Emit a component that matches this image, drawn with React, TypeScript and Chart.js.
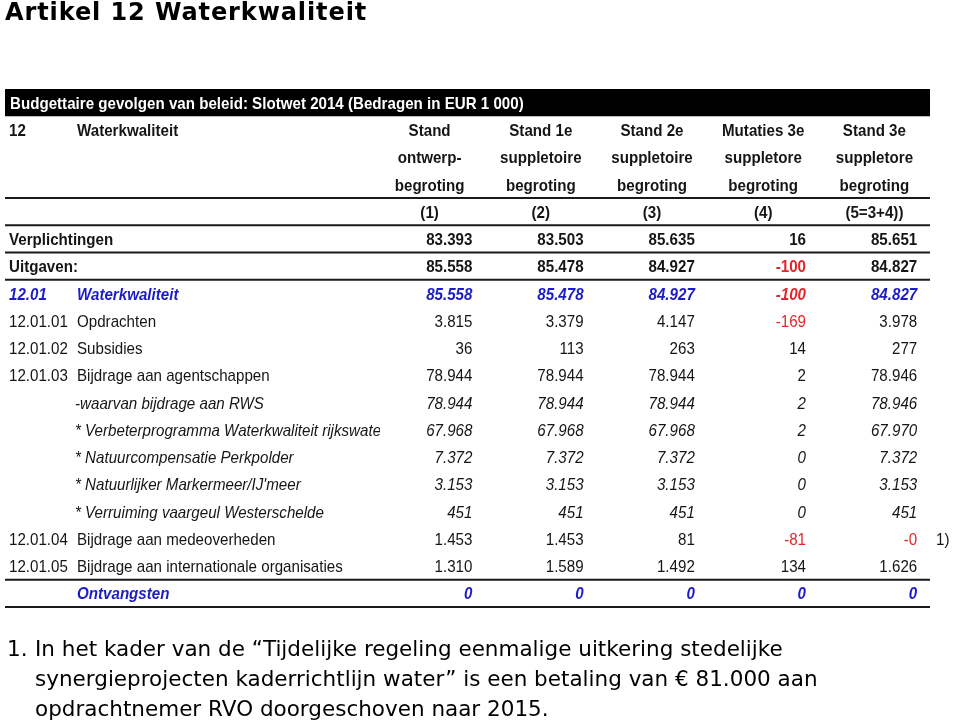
import React, { useEffect, useRef } from "react";
import { Chart, registerables } from "chart.js";

Chart.register(...registerables);

const TITLE = "Artikel 12 Waterkwaliteit";
const TABLE_CAPTION = "Budgettaire gevolgen van beleid: Slotwet 2014 (Bedragen in EUR 1 000)";
const ARTICLE_CODE = "12";
const ARTICLE_NAME = "Waterkwaliteit";

const COLUMN_KEYS = ["(1)", "(2)", "(3)", "(4)", "(5=3+4))"];
const HEADER_LINE_1 = ["Stand", "Stand 1e", "Stand 2e", "Mutaties 3e", "Stand 3e"];
const HEADER_LINE_2 = ["ontwerp-", "suppletoire", "suppletoire", "suppletore", "suppletore"];
const HEADER_LINE_3 = ["begroting", "begroting", "begroting", "begroting", "begroting"];

const ROW_CODES = ["", "", "12.01", "12.01.01", "12.01.02", "12.01.03", "", "", "", "", "", "12.01.04", "12.01.05", ""];
const ROW_LABELS = [
  "Verplichtingen",
  "Uitgaven:",
  "Waterkwaliteit",
  "Opdrachten",
  "Subsidies",
  "Bijdrage aan agentschappen",
  "-waarvan bijdrage aan RWS",
  "* Verbeterprogramma Waterkwaliteit rijkswateren",
  "* Natuurcompensatie Perkpolder",
  "* Natuurlijker Markermeer/IJ'meer",
  "* Verruiming vaargeul Westerschelde",
  "Bijdrage aan medeoverheden",
  "Bijdrage aan internationale organisaties",
  "Ontvangsten",
];
const ROW_KINDS = ["total", "total", "blue", "plain", "plain", "plain", "italic", "italic", "italic", "italic", "italic", "plain", "plain", "blue"];
const ROW_NOTES = ["", "", "", "", "", "", "", "", "", "", "", "1)", "", ""];

const VALUES_1 = [83393, 85558, 85558, 3815, 36, 78944, 78944, 67968, 7372, 3153, 451, 1453, 1310, 0];
const VALUES_2 = [83503, 85478, 85478, 3379, 113, 78944, 78944, 67968, 7372, 3153, 451, 1453, 1589, 0];
const VALUES_3 = [85635, 84927, 84927, 4147, 263, 78944, 78944, 67968, 7372, 3153, 451, 81, 1492, 0];
const VALUES_4 = [16, -100, -100, -169, 14, 2, 2, 2, 0, 0, 0, -81, 134, 0];
const VALUES_5 = [85651, 84827, 84827, 3978, 277, 78946, 78946, 67970, 7372, 3153, 451, -0, 1626, 0];
const COLUMN_VALUES = [VALUES_1, VALUES_2, VALUES_3, VALUES_4, VALUES_5];

const FOOTNOTE_NUMBER = "1.";
const FOOTNOTE_LINES = [
  "In het kader van de \u201cTijdelijke regeling eenmalige uitkering stedelijke",
  "synergieprojecten kaderrichtlijn water\u201d is een betaling van \u20ac 81.000 aan",
  "opdrachtnemer RVO doorgeschoven naar 2015.",
];

const Y_KEYS = ["caption", "head1", "head2", "head3", "colnums", ...ROW_LABELS.map((_, i) => "row" + i)];
const DATA_OFFSET = 5;

const BLACK = "#151515";
const BLUE = "#1c1cc4";
const RED = "#e2262b";
const FONT_SIZE = 17;
const TABLE_LEFT = 5;
const FAMILY = '"Liberation Sans", Arial, sans-serif';
const SCALE_X = 0.89;

function fmt(v: number): string {
  const neg = v < 0 || Object.is(v, -0);
  const s = Math.abs(v).toString().replace(/\B(?=(\d{3})+(?!\d))/g, ".");
  return (neg ? "-" : "") + s;
}

type Style = { weight?: string; italic?: boolean; color?: string; align?: CanvasTextAlign };

function drawText(ctx: CanvasRenderingContext2D, s: string, px: number, py: number, st: Style) {
  ctx.save();
  ctx.font = `${st.italic ? "italic " : ""}${st.weight || "normal"} ${FONT_SIZE}px ${FAMILY}`;
  ctx.fillStyle = st.color || BLACK;
  ctx.textAlign = st.align || "left";
  ctx.textBaseline = "alphabetic";
  ctx.translate(px, py + FONT_SIZE * 0.36);
  ctx.scale(SCALE_X, 1);
  ctx.fillText(s, 0, 0);
  ctx.restore();
}

const tablePlugin = {
  id: "tableCells",
  afterDraw(chart: any) {
    const { ctx, chartArea } = chart;
    const xs = chart.scales.x;
    const ys = chart.scales.y;
    const bandH = ys.getPixelForValue(1) - ys.getPixelForValue(0);
    const bandW = xs.getPixelForValue(1) - xs.getPixelForValue(0);
    const rowY = (i: number) => ys.getPixelForValue(i);
    const colX = (j: number) => xs.getPixelForValue(j);
    const numX = (j: number) => colX(j) + bandW * 0.385;
    const left = TABLE_LEFT;
    const right = chartArea.right;
    const codeX = left + 4;
    const labelX = left + 72;

    // caption bar
    ctx.save();
    ctx.fillStyle = "#000";
    ctx.fillRect(left, rowY(0) - bandH / 2, right - left, bandH);
    ctx.restore();
    drawText(ctx, TABLE_CAPTION, left + 5, rowY(0), { weight: "bold", color: "#ffffff" });

    // header
    drawText(ctx, ARTICLE_CODE, codeX, rowY(1), { weight: "bold" });
    drawText(ctx, ARTICLE_NAME, labelX, rowY(1), { weight: "bold" });
    [HEADER_LINE_1, HEADER_LINE_2, HEADER_LINE_3, COLUMN_KEYS].forEach((line, k) => {
      line.forEach((s, j) => drawText(ctx, s, colX(j), rowY(1 + k), { weight: "bold", align: "center" }));
    });

    // rules
    const rule = (rowIndexBelow: number) => {
      const yy = rowY(rowIndexBelow) - bandH / 2;
      ctx.save();
      ctx.strokeStyle = "#1a1a1a";
      ctx.lineWidth = 2;
      ctx.beginPath();
      ctx.moveTo(left, yy);
      ctx.lineTo(right, yy);
      ctx.stroke();
      ctx.restore();
    };
    [4, 5, 6, 7, DATA_OFFSET + ROW_LABELS.length - 1, DATA_OFFSET + ROW_LABELS.length].forEach(rule);

    // rows
    ROW_LABELS.forEach((label, i) => {
      const kind = ROW_KINDS[i];
      const yy = rowY(DATA_OFFSET + i);
      const bold = kind === "total" || kind === "blue";
      const italic = kind === "blue" || kind === "italic";
      const baseColor = kind === "blue" ? BLUE : BLACK;
      const weight = bold ? "bold" : "normal";
      ctx.save();
      ctx.beginPath();
      ctx.rect(0, 0, chartArea.left + 6, chart.height);
      ctx.clip();
      if (kind === "total") {
        drawText(ctx, label, codeX, yy, { weight, italic, color: baseColor });
      } else {
        if (ROW_CODES[i]) drawText(ctx, ROW_CODES[i], codeX, yy, { weight, italic, color: baseColor });
        drawText(ctx, label, kind === "italic" ? labelX - 2 : labelX, yy, { weight, italic, color: baseColor });
      }
      ctx.restore();
      COLUMN_VALUES.forEach((vals, j) => {
        const v = vals[i];
        const neg = v < 0 || Object.is(v, -0);
        drawText(ctx, fmt(v), numX(j), yy, { weight, italic, color: neg ? RED : baseColor, align: "right" });
      });
      if (ROW_NOTES[i]) drawText(ctx, ROW_NOTES[i], right + 6, yy, { weight: "normal" });
    });
  },
};

export default function App() {
  const ref = useRef<HTMLCanvasElement | null>(null);
  useEffect(() => {
    if (!ref.current) return;
    const chart = new Chart(ref.current, {
      type: "bar",
      data: { labels: COLUMN_KEYS, datasets: [] },
      options: {
        animation: false,
        responsive: false,
        devicePixelRatio: 1,
        events: [],
        layout: { padding: { left: 374, right: 30, top: 89, bottom: 115 } },
        plugins: { legend: { display: false }, tooltip: { enabled: false }, title: { display: false } },
        scales: {
          x: { type: "category", labels: COLUMN_KEYS, display: false, offset: true },
          y: { type: "category", labels: Y_KEYS, display: false, offset: true },
        },
      },
      plugins: [tablePlugin as any],
    });
    return () => chart.destroy();
  }, []);

  return (
    <div style={{ position: "fixed", left: 0, top: 0, width: 960, height: 722, background: "#fff", overflow: "hidden" }}>
      <canvas ref={ref} width={960} height={722} style={{ position: "absolute", left: 0, top: 0, display: "block" }} />
      <div
        style={{
          position: "absolute",
          left: 5,
          top: -2,
          fontFamily: '"DejaVu Sans", Verdana, sans-serif',
          fontWeight: "bold",
          fontSize: 24,
          letterSpacing: "0.9px",
          lineHeight: "normal",
          whiteSpace: "nowrap",
          color: "#000",
        }}
      >
        {TITLE}
      </div>
      <div
        style={{
          position: "absolute",
          left: 7,
          top: 634,
          fontFamily: '"DejaVu Sans", Verdana, sans-serif',
          fontSize: 21.5,
          lineHeight: "30px",
          whiteSpace: "nowrap",
          color: "#000",
        }}
      >
        <div style={{ position: "absolute", left: 0, top: 0 }}>{FOOTNOTE_NUMBER}</div>
        <div style={{ position: "absolute", left: 28, top: 0 }}>
          {FOOTNOTE_LINES.map((l, i) => (
            <div key={i}>{l}</div>
          ))}
        </div>
      </div>
    </div>
  );
}
